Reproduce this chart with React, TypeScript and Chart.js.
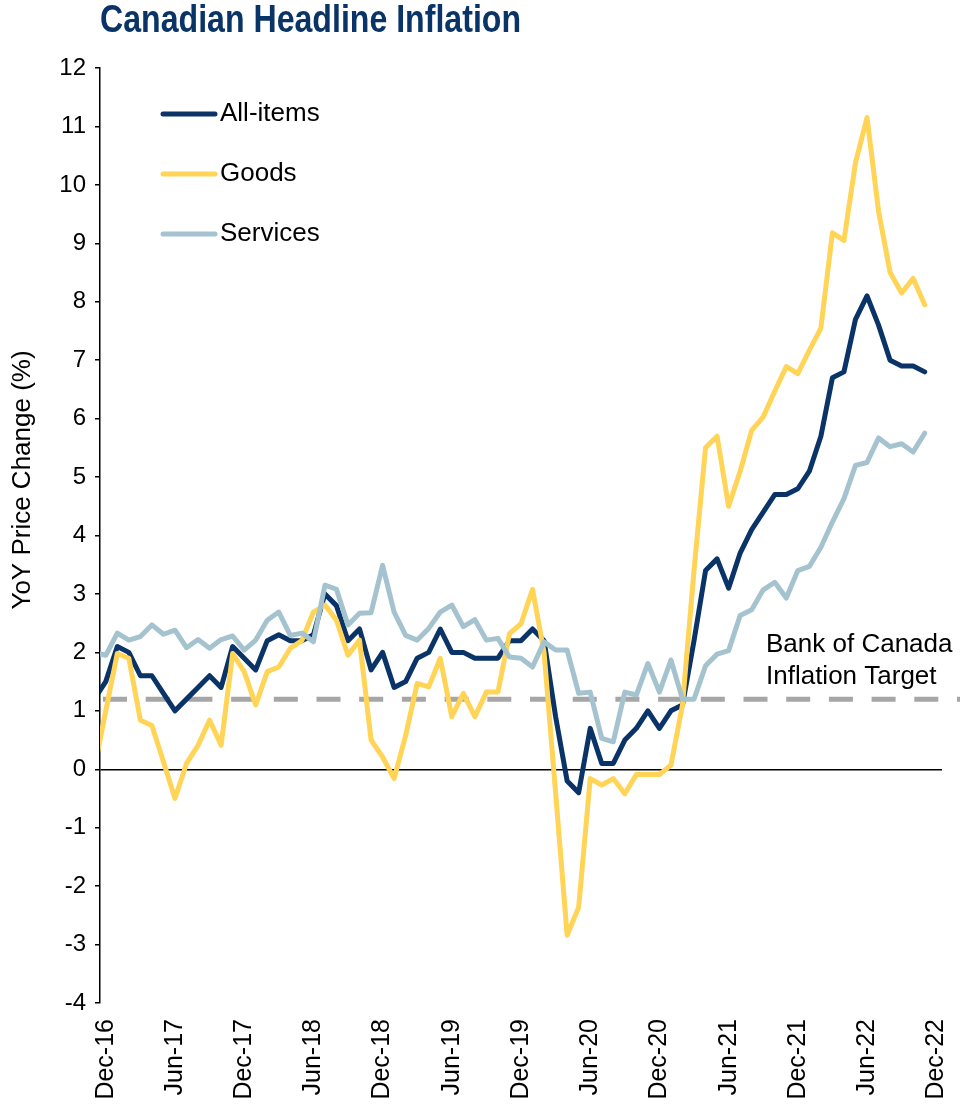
import React, { useEffect, useRef } from "react";
import { Chart, registerables } from "chart.js";

Chart.register(...registerables);

const MONTHS = [
  "Nov-16", "Dec-16",
  "Jan-17", "Feb-17", "Mar-17", "Apr-17", "May-17", "Jun-17", "Jul-17", "Aug-17", "Sep-17", "Oct-17", "Nov-17", "Dec-17",
  "Jan-18", "Feb-18", "Mar-18", "Apr-18", "May-18", "Jun-18", "Jul-18", "Aug-18", "Sep-18", "Oct-18", "Nov-18", "Dec-18",
  "Jan-19", "Feb-19", "Mar-19", "Apr-19", "May-19", "Jun-19", "Jul-19", "Aug-19", "Sep-19", "Oct-19", "Nov-19", "Dec-19",
  "Jan-20", "Feb-20", "Mar-20", "Apr-20", "May-20", "Jun-20", "Jul-20", "Aug-20", "Sep-20", "Oct-20", "Nov-20", "Dec-20",
  "Jan-21", "Feb-21", "Mar-21", "Apr-21", "May-21", "Jun-21", "Jul-21", "Aug-21", "Sep-21", "Oct-21", "Nov-21", "Dec-21",
  "Jan-22", "Feb-22", "Mar-22", "Apr-22", "May-22", "Jun-22", "Jul-22", "Aug-22", "Sep-22", "Oct-22", "Nov-22", "Dec-22",
];

const TICK_LABELS = [
  "Dec-16", "Jun-17", "Dec-17", "Jun-18", "Dec-18", "Jun-19", "Dec-19",
  "Jun-20", "Dec-20", "Jun-21", "Dec-21", "Jun-22", "Dec-22",
];

// Nov-16 .. Nov-22
const ALL_ITEMS = [
  1.2, 1.5,
  2.1, 2.0, 1.6, 1.6, 1.3, 1.0, 1.2, 1.4, 1.6, 1.4, 2.1, 1.9,
  1.7, 2.2, 2.3, 2.2, 2.2, 2.3, 3.0, 2.8, 2.2, 2.4, 1.7, 2.0,
  1.4, 1.5, 1.9, 2.0, 2.4, 2.0, 2.0, 1.9, 1.9, 1.9, 2.2, 2.2,
  2.4, 2.2, 0.9, -0.2, -0.4, 0.7, 0.1, 0.1, 0.5, 0.7, 1.0, 0.7,
  1.0, 1.1, 2.2, 3.4, 3.6, 3.1, 3.7, 4.1, 4.4, 4.7, 4.7, 4.8,
  5.1, 5.7, 6.7, 6.8, 7.7, 8.1, 7.6, 7.0, 6.9, 6.9, 6.8,
];

const GOODS = [
  0.0, 1.0,
  1.98, 1.9, 0.84, 0.75, 0.13, -0.5, 0.1, 0.41, 0.84, 0.41, 1.98, 1.67,
  1.1, 1.67, 1.75, 2.07, 2.2, 2.69, 2.81, 2.55, 1.95, 2.21, 0.5, 0.21,
  -0.16, 0.58, 1.47, 1.41, 1.9, 0.9, 1.3, 0.9, 1.32, 1.32, 2.32, 2.49,
  3.08, 2.0, -0.4, -2.84, -2.36, -0.16, -0.27, -0.16, -0.42, -0.09, -0.09, -0.09,
  0.07, 1.1, 3.4, 5.5, 5.7, 4.5, 5.1, 5.8, 6.03, 6.47, 6.89, 6.77,
  7.17, 7.55, 9.18, 9.05, 10.38, 11.15, 9.55, 8.5, 8.15, 8.4, 7.95,
];

const SERVICES = [
  2.0, 1.95,
  2.33, 2.21, 2.27, 2.47, 2.31, 2.38, 2.08, 2.22, 2.07, 2.22, 2.28, 2.04,
  2.21, 2.55, 2.69, 2.29, 2.33, 2.18, 3.15, 3.08, 2.47, 2.67, 2.68, 3.49,
  2.69, 2.29, 2.21, 2.41, 2.69, 2.81, 2.44, 2.56, 2.21, 2.24, 1.92, 1.9,
  1.75, 2.18, 2.04, 2.04, 1.3, 1.32, 0.53, 0.47, 1.32, 1.27, 1.81, 1.32,
  1.87, 1.2, 1.2, 1.77, 1.97, 2.03, 2.63, 2.73, 3.07, 3.2, 2.93, 3.4,
  3.47, 3.8, 4.23, 4.63, 5.2, 5.25, 5.67, 5.52, 5.57, 5.43, 5.75,
];

const TARGET = 1.2;
const TARGET_LABEL = ["Bank of Canada", "Inflation Target"];
const TITLE = "Canadian Headline Inflation";
const Y_TITLE = "YoY Price Change (%)";

const NAVY = "#0A3368";
const YELLOW = "#FFD457";
const LIGHTBLUE = "#A4C3CF";
const GREY = "#A6A6A6";
const FONT = "'Liberation Sans', Arial, sans-serif";

const ORIGIN = MONTHS.indexOf("Dec-16");
const toPoints = (arr: number[]) => arr.map((v, k) => ({ x: k - ORIGIN, y: v }));

const SERIES = [
  { label: "All-items", data: ALL_ITEMS, color: NAVY, order: 3 },
  { label: "Goods", data: GOODS, color: YELLOW, order: 2 },
  { label: "Services", data: SERVICES, color: LIGHTBLUE, order: 1 },
];

const overlayPlugin = {
  id: "overlay",
  beforeDatasetsDraw(chart: any) {
    const { ctx, chartArea, scales } = chart;
    const y = scales.y.getPixelForValue(TARGET);
    ctx.save();
    ctx.strokeStyle = GREY;
    ctx.lineWidth = 5;
    ctx.setLineDash([24, 18.7]);
    ctx.lineCap = "butt";
    ctx.beginPath();
    ctx.moveTo(chartArea.left + 3, y);
    ctx.lineTo(chart.width, y);
    ctx.stroke();
    ctx.restore();
  },
  afterDraw(chart: any) {
    const { ctx, chartArea, scales } = chart;
    ctx.save();
    // title (condensed bold)
    ctx.fillStyle = NAVY;
    ctx.font = `bold 38px ${FONT}`;
    ctx.textBaseline = "middle";
    ctx.textAlign = "left";
    ctx.save();
    ctx.translate(chartArea.left, 22);
    ctx.scale(0.845, 1);
    ctx.fillText(TITLE, 0, 0);
    ctx.restore();

    // y axis title
    ctx.save();
    ctx.fillStyle = "#000";
    ctx.font = `26px ${FONT}`;
    ctx.textAlign = "center";
    ctx.textBaseline = "middle";
    ctx.translate(23, scales.y.getPixelForValue(4.95));
    ctx.rotate(-Math.PI / 2);
    ctx.fillText(Y_TITLE, 0, 0);
    ctx.restore();

    // legend
    SERIES.forEach((s, i) => {
      const ly = chartArea.top + 46 + i * 60;
      ctx.strokeStyle = s.color;
      ctx.lineWidth = 5;
      ctx.lineCap = "round";
      ctx.beginPath();
      ctx.moveTo(chartArea.left + 63, ly);
      ctx.lineTo(chartArea.left + 115, ly);
      ctx.stroke();
      ctx.fillStyle = "#000";
      ctx.font = `26px ${FONT}`;
      ctx.textAlign = "left";
      ctx.textBaseline = "middle";
      ctx.fillText(s.label, chartArea.left + 120, ly);
    });

    // target label
    const ty = scales.y.getPixelForValue(TARGET);
    ctx.fillStyle = "#000";
    ctx.font = `26px ${FONT}`;
    ctx.textAlign = "left";
    ctx.textBaseline = "middle";
    TARGET_LABEL.forEach((t, i) => {
      ctx.fillText(t, chartArea.right - 176, ty - 54 + i * 32);
    });
    ctx.restore();
  },
};

export default function App() {
  const canvasRef = useRef<HTMLCanvasElement | null>(null);

  useEffect(() => {
    document.body.style.margin = "0";
    const canvas = canvasRef.current;
    if (!canvas) return;
    const chart = new Chart(canvas, {
      type: "line",
      data: {
        datasets: SERIES.map((s) => ({
          label: s.label,
          data: toPoints(s.data),
          borderColor: s.color,
          backgroundColor: s.color,
          borderWidth: 5,
          pointRadius: 0,
          tension: 0,
          borderCapStyle: "round",
          borderJoinStyle: "round",
          clip: 0,
          order: s.order,
        })),
      },
      options: {
        animation: false,
        responsive: true,
        maintainAspectRatio: false,
        layout: { padding: { top: 68, right: 18, left: 0, bottom: 0 } },
        plugins: {
          legend: { display: false },
          tooltip: { enabled: false },
          title: { display: false },
        },
        scales: {
          x: {
            type: "linear",
            min: -0.5,
            max: 72.5,
            afterBuildTicks: (scale: any) => {
              scale.ticks = TICK_LABELS.map((l) => ({ value: MONTHS.indexOf(l) - ORIGIN }));
            },
            afterFit: (scale: any) => {
              scale.height = 103;
              scale.paddingLeft = 0;
              scale.paddingRight = 0;
            },
            grid: { display: false },
            border: { display: false },
            ticks: {
              autoSkip: false,
              maxRotation: 90,
              minRotation: 90,
              padding: 8,
              color: "#000",
              font: { family: FONT, size: 25 },
              callback: (v: any) => MONTHS[Number(v) + ORIGIN],
            },
          },
          y: {
            min: -4,
            max: 12,
            afterFit: (scale: any) => {
              scale.width = 100;
              scale.paddingTop = 0;
              scale.paddingBottom = 0;
            },
            ticks: {
              stepSize: 1,
              padding: 9,
              color: "#000",
              font: { family: FONT, size: 24 },
            },
            grid: {
              drawOnChartArea: true,
              drawTicks: true,
              tickLength: 5,
              tickColor: "#000",
              lineWidth: 1.5,
              color: (c: any) => (c.tick && c.tick.value === 0 ? "#000" : "rgba(0,0,0,0)"),
            },
            border: { display: true, color: "#000", width: 1.5 },
            title: { display: false },
          },
        },
      },
      plugins: [overlayPlugin],
    });
    return () => chart.destroy();
  }, []);

  return (
    <div style={{ position: "relative", width: 960, height: 1106, overflow: "hidden" }}>
      <canvas ref={canvasRef} role="img" aria-label={`${TITLE}: ${Y_TITLE}`} />
    </div>
  );
}
